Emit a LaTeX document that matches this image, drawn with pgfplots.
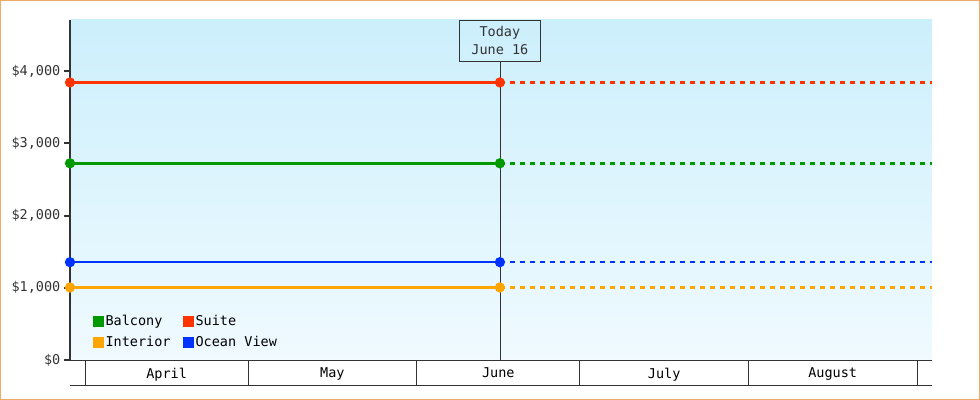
\documentclass[border=0pt]{standalone}
\usepackage{fontspec}
\setmainfont{DejaVu Sans Mono}
\usepackage{pgfplots}
\pgfplotsset{compat=1.18}

\definecolor{cBalcony}{HTML}{009900}
\definecolor{cSuite}{HTML}{FF3300}
\definecolor{cInterior}{HTML}{FFA500}
\definecolor{cOcean}{HTML}{0033FF}
\definecolor{cAxis}{HTML}{333333}
\definecolor{cFrame}{HTML}{EEAA66}
\definecolor{bgTop}{HTML}{CCEFFC}
\definecolor{bgBot}{HTML}{F0FAFF}

% x = days since April 1
\pgfplotstableread{
x y
-2.76 3845
76.3 3845
}\suite
\pgfplotstableread{
x y
-2.76 2725
76.3 2725
}\balcony
\pgfplotstableread{
x y
-2.76 1005
76.3 1005
}\interior
\pgfplotstableread{
x y
-2.76 1355
76.3 1355
}\ocean

\begin{document}
\fontsize{13.5bp}{16bp}\selectfont
\begin{tikzpicture}
\useasboundingbox (-70bp,-40bp) rectangle (910bp,360bp);
\draw[cFrame, line width=1bp] (-69.5bp,-39.5bp) rectangle (909.5bp,359.5bp);
\begin{axis}[
    at={(0,0)}, anchor=south west,
    scale only axis,
    width=862bp, height=340bp,
    xmin=-2.76, xmax=155.76,
    ymin=0, ymax=4710,
    clip=false,
    axis background/.style={shade, top color=bgTop, bottom color=bgBot},
    axis x line*=bottom,
    axis y line*=left,
    x axis line style={-, cAxis, line width=1bp},
    y axis line style={-, cAxis, line width=2.2bp},
    xtick={15,45.5,76,106.5,137.5},
    xticklabels={April,May,June,July,August},
    minor xtick={0,30,61,91,122,153},
    major x tick style={draw=none},
    minor x tick style={cAxis, line width=1bp},
    minor tick length=25bp,
    xtick align=outside,
    ytick={0,1000,2000,3000,4000},
    yticklabels={{\$0},{\$1,000},{\$2,000},{\$3,000},{\$4,000}},
    ytick align=outside,
    major tick length=6bp,
    y tick style={cAxis, line width=2bp},
    yticklabel style={cAxis, xshift=1bp},
    xticklabel style={black, yshift=3bp},
    legend columns=2,
    legend cell align=left,
    legend style={draw=none, fill=none, at={(0.026,0.137)}, anchor=north west,
        /tikz/every even column/.append style={column sep=10bp},
        row sep=4bp, inner sep=0pt},
    legend image code/.code={\fill[#1, draw=none] (0bp,-5.5bp) rectangle (11bp,5.5bp);},
]
\draw[cAxis, line width=0.8bp] (axis cs:76.3,0) -- (axis cs:76.3,4135);
\node[draw=cAxis, line width=0.8bp, anchor=north, minimum width=81bp, minimum height=41bp,
      inner sep=0pt, align=center, font=\fontsize{13.5bp}{18bp}\selectfont, text=cAxis]
      at (axis cs:76.3,4710) {Today\\June 16};
\draw[cAxis, line width=1bp] ([yshift=-25bp]rel axis cs:0,0) -- ([yshift=-25bp]rel axis cs:1,0);

\addplot[cBalcony, line width=2.5bp, mark=*, mark size=3.8bp] table {\balcony};
\addplot[cSuite, line width=2.5bp, mark=*, mark size=3.8bp] table {\suite};
\addplot[cInterior, line width=2.5bp, mark=*, mark size=3.8bp] table {\interior};
\addplot[cOcean, line width=2.5bp, mark=*, mark size=3.8bp] table {\ocean};

\addplot[cSuite, line width=2.5bp, dash pattern=on 5bp off 5bp, forget plot] coordinates {(76.3,3845) (155.76,3845)};
\addplot[cBalcony, line width=2.5bp, dash pattern=on 5bp off 5bp, forget plot] coordinates {(76.3,2725) (155.76,2725)};
\addplot[cOcean, line width=2.5bp, dash pattern=on 5bp off 5bp, forget plot] coordinates {(76.3,1355) (155.76,1355)};
\addplot[cInterior, line width=2.5bp, dash pattern=on 5bp off 5bp, forget plot] coordinates {(76.3,1005) (155.76,1005)};

\legend{Balcony,Suite,Interior,Ocean View}
\end{axis}
\end{tikzpicture}
\end{document}
